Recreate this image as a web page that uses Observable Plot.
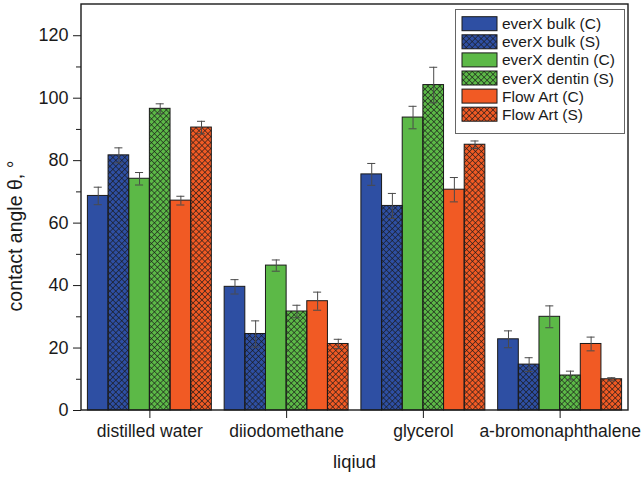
<!DOCTYPE html>
<html>
<head>
<meta charset="utf-8">
<script src="https://cdn.jsdelivr.net/npm/d3@7"></script>
<script src="https://cdn.jsdelivr.net/npm/@observablehq/plot@0.6"></script>
<style>
  body { margin: 0; background: #fff; }
  #chart { position: relative; width: 641px; height: 477px; }
</style>
</head>
<body>
<div id="chart"></div>
<script>
// ---- data ----
const categories = ["distilled water", "diiodomethane", "glycerol", "a-bromonaphthalene"];
const series = ["everX bulk (C)", "everX bulk (S)", "everX dentin (C)", "everX dentin (S)", "Flow Art (C)", "Flow Art (S)"];
const seriesColors = ["#2e4fa3", "#2e4fa3", "#5cb947", "#5cb947", "#f15a24", "#f15a24"];
const seriesHatched = [false, true, false, true, false, true];

const meanBulkC   = [68.7, 39.6, 75.6, 22.8];
const meanBulkS   = [81.7, 24.5, 65.5, 14.7];
const meanDentinC = [74.2, 46.4, 93.8, 30.0];
const meanDentinS = [96.6, 31.7, 104.2, 11.2];
const meanFlowC   = [67.2, 35.0, 70.7, 21.3];
const meanFlowS   = [90.6, 21.3, 85.1, 10.0];

const errBulkC   = [2.8, 2.3, 3.5, 2.7];
const errBulkS   = [2.4, 4.2, 4.0, 2.2];
const errDentinC = [2.0, 1.8, 3.6, 3.5];
const errDentinS = [1.6, 2.0, 5.7, 1.4];
const errFlowC   = [1.4, 2.9, 3.9, 2.2];
const errFlowS   = [2.0, 1.5, 1.2, 0.5];

const yTicks = [0, 20, 40, 60, 80, 100, 120];
const yMinorTicks = [10, 30, 50, 70, 90, 110];
const xLabel = "liqiud";
const yLabel = "contact angle θ, °";

// ---- build table ----
const means = [meanBulkC, meanBulkS, meanDentinC, meanDentinS, meanFlowC, meanFlowS];
const errs = [errBulkC, errBulkS, errDentinC, errDentinS, errFlowC, errFlowS];
const data = [];
categories.forEach((c, i) => {
  series.forEach((s, j) => {
    data.push({cat: c, series: s, v: means[j][i], e: errs[j][i], hatched: seriesHatched[j]});
  });
});

const W = 641, H = 477;
const mL = 81, mR = 13, mT = 4, mB = 67;
const font = "'Liberation Sans', Arial, sans-serif";

const plot = Plot.plot({
  width: W,
  height: H,
  marginLeft: mL,
  marginRight: mR,
  marginTop: mT,
  marginBottom: mB,
  style: {fontFamily: font, fontSize: "17.5px", color: "#1a1a1a", background: "#fff"},
  fx: {domain: categories, padding: 0, round: false, label: null},
  x: {domain: series, paddingInner: 0, paddingOuter: 0.31, round: false, axis: null},
  y: {domain: [0, 130], label: null},
  color: {domain: series, range: seriesColors},
  marks: [
    Plot.barY(data, {fx: "cat", x: "series", y: "v", fill: "series"}),
    Plot.barY(data.filter(d => d.hatched), {fx: "cat", x: "series", y: "v", fill: "url(#hatch)"}),
    Plot.barY(data, {fx: "cat", x: "series", y: "v", fill: "none", stroke: "#1a1a1a", strokeWidth: 1}),
    Plot.ruleX(data, {fx: "cat", x: "series", y1: d => d.v - d.e, y2: d => d.v + d.e, stroke: "#4a4a4a", strokeWidth: 1}),
    Plot.tickY(data, {fx: "cat", x: "series", y: d => d.v + d.e, stroke: "#4a4a4a", strokeWidth: 1, insetLeft: 6.3, insetRight: 6.3}),
    Plot.tickY(data, {fx: "cat", x: "series", y: d => d.v - d.e, stroke: "#4a4a4a", strokeWidth: 1, insetLeft: 6.3, insetRight: 6.3}),
    Plot.axisY({ticks: yTicks, tickSize: 8, tickPadding: 5, fontSize: 18, label: null, stroke: "#1a1a1a"}),
    Plot.axisY({ticks: yMinorTicks, tickSize: 5, tickFormat: () => "", label: null, stroke: "#1a1a1a"}),
    Plot.axisFx({anchor: "bottom", tickSize: 8, tickPadding: 6, label: null, stroke: "#1a1a1a"})
  ]
});

const svg = d3.select(plot);
// hatch pattern
const defs = svg.insert("defs", ":first-child");
const pat = defs.append("pattern")
  .attr("id", "hatch")
  .attr("patternUnits", "userSpaceOnUse")
  .attr("width", 4.2).attr("height", 4.2)
  .attr("patternTransform", "rotate(45)");
pat.append("path")
  .attr("d", "M0,2.1H4.2M2.1,0V4.2")
  .attr("stroke", "#1a1a1a")
  .attr("stroke-width", 0.6)
  .attr("fill", "none");

// outer frame
svg.append("rect")
  .attr("x", mL).attr("y", mT)
  .attr("width", W - mL - mR).attr("height", H - mT - mB)
  .attr("fill", "none").attr("stroke", "#1a1a1a").attr("stroke-width", 1.4);

// axis titles
svg.append("text")
  .attr("transform", `translate(17,236) rotate(-90)`)
  .attr("text-anchor", "middle").attr("dominant-baseline", "middle")
  .attr("font-family", font).attr("font-size", 19.5).attr("fill", "#1a1a1a")
  .text(yLabel);
svg.append("text")
  .attr("x", (mL + W - mR) / 2).attr("y", 468)
  .attr("text-anchor", "middle")
  .attr("font-family", font).attr("font-size", 18.4).attr("fill", "#1a1a1a")
  .text(xLabel);

// legend
const lg = svg.append("g").attr("text-anchor", "start");
lg.append("rect").attr("x", 455.5).attr("y", 9.5).attr("width", 169).attr("height", 124)
  .attr("fill", "#fff").attr("stroke", "#666").attr("stroke-width", 1);
series.forEach((s, j) => {
  const y0 = 16.7 + j * 18.1;
  lg.append("rect").attr("x", 462).attr("y", y0).attr("width", 35).attr("height", 14)
    .attr("fill", seriesColors[j]);
  if (seriesHatched[j]) {
    lg.append("rect").attr("x", 462).attr("y", y0).attr("width", 35).attr("height", 14)
      .attr("fill", "url(#hatch)");
  }
  lg.append("rect").attr("x", 462).attr("y", y0).attr("width", 35).attr("height", 14)
    .attr("fill", "none").attr("stroke", "#1a1a1a").attr("stroke-width", 1);
  lg.append("text").attr("x", 502).attr("y", y0 + 7).attr("dy", "0.36em")
    .attr("text-anchor", "start")
    .attr("font-family", font).attr("font-size", 15.5).attr("fill", "#1a1a1a")
    .text(s);
});

document.getElementById("chart").appendChild(plot);
</script>
</body>
</html>
